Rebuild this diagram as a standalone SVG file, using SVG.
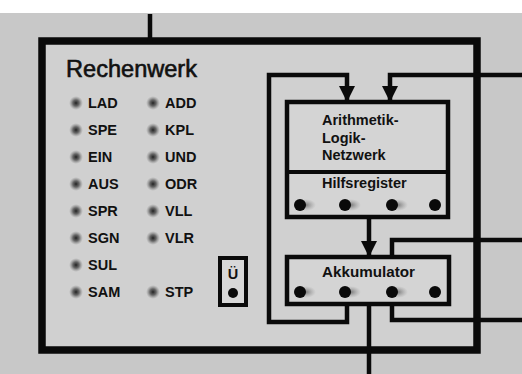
<svg xmlns="http://www.w3.org/2000/svg" width="522" height="374" viewBox="0 0 522 374">
<defs>
<style>
.bg{fill:#c8c8c8}
.outer{fill:#d0d0d0;stroke:#0a0a0a;stroke-width:7.5}
.wire{fill:none;stroke:#0a0a0a;stroke-width:4.5;stroke-linejoin:miter}
.lbl{font-family:"Liberation Sans",Arial,sans-serif;font-weight:bold;font-size:14.5px;fill:#111}
.alu{font-family:"Liberation Sans",Arial,sans-serif;font-weight:bold;font-size:14.5px;fill:#111}
.title{font-family:"Liberation Sans",Arial,sans-serif;font-size:23px;fill:#111;stroke:#111;stroke-width:0.6}
.dot{fill:#0a0a0a}
.led{fill:url(#ledg)}
.smudge{fill:url(#smg)}
</style>
<radialGradient id="ledg">
<stop offset="0" stop-color="#222"/>
<stop offset="0.45" stop-color="#555" stop-opacity="0.85"/>
<stop offset="1" stop-color="#888" stop-opacity="0"/>
</radialGradient>
<radialGradient id="smg">
<stop offset="0" stop-color="#555" stop-opacity="0.7"/>
<stop offset="1" stop-color="#888" stop-opacity="0"/>
</radialGradient>
<marker id="arr" markerUnits="userSpaceOnUse" markerWidth="17" markerHeight="16" refX="15" refY="8" orient="auto" viewBox="0 0 17 16">
<path d="M0,0 L16,8 L0,16 z" fill="#0a0a0a"/>
</marker>
</defs>
<rect x="0" y="0" width="522" height="374" fill="#ffffff"/>
<rect class="bg" x="0" y="13" width="522" height="361"/>

<g id="rechenwerk">
<rect class="outer" x="42" y="41" width="435" height="309"/>
<text class="title" x="66" y="77" textLength="131" lengthAdjust="spacingAndGlyphs">Rechenwerk</text>
</g>

<g id="befehle">
<circle class="led" cx="76" cy="103" r="7"/><text class="lbl" x="88" y="108">LAD</text>
<circle class="led" cx="76" cy="130" r="7"/><text class="lbl" x="88" y="135">SPE</text>
<circle class="led" cx="76" cy="157" r="7"/><text class="lbl" x="88" y="162">EIN</text>
<circle class="led" cx="76" cy="184" r="7"/><text class="lbl" x="88" y="189">AUS</text>
<circle class="led" cx="76" cy="211" r="7"/><text class="lbl" x="88" y="216">SPR</text>
<circle class="led" cx="76" cy="238" r="7"/><text class="lbl" x="88" y="243">SGN</text>
<circle class="led" cx="76" cy="265" r="7"/><text class="lbl" x="88" y="270">SUL</text>
<circle class="led" cx="76" cy="292" r="7"/><text class="lbl" x="88" y="297">SAM</text>
<circle class="led" cx="153" cy="103" r="7"/><text class="lbl" x="165" y="108">ADD</text>
<circle class="led" cx="153" cy="130" r="7"/><text class="lbl" x="165" y="135">KPL</text>
<circle class="led" cx="153" cy="157" r="7"/><text class="lbl" x="165" y="162">UND</text>
<circle class="led" cx="153" cy="184" r="7"/><text class="lbl" x="165" y="189">ODR</text>
<circle class="led" cx="153" cy="211" r="7"/><text class="lbl" x="165" y="216">VLL</text>
<circle class="led" cx="153" cy="238" r="7"/><text class="lbl" x="165" y="243">VLR</text>
<circle class="led" cx="153" cy="292" r="7"/><text class="lbl" x="165" y="297">STP</text>
</g>

<g id="ueberlauf">
<rect x="220" y="258" width="26" height="47" fill="#d8d8d8" stroke="#0a0a0a" stroke-width="4"/>
<text class="lbl" x="233" y="279" text-anchor="middle" font-size="15">Ü</text>
<circle class="dot" cx="233" cy="293" r="5"/>
</g>

<g id="connectors">
<path class="wire" d="M150,14 V41"/>
<path class="wire" d="M347,304 V322 H269 V75 H347 V101" marker-end="url(#arr)"/>
<path class="wire" d="M522,75 H390 V101" marker-end="url(#arr)"/>
<path class="wire" d="M369,217 V256" marker-end="url(#arr)"/>
<path class="wire" d="M522,240 H392 V257"/>
<path class="wire" d="M392,304 V320 H522"/>
<path class="wire" d="M369,304 V374"/>
</g>

<g id="alu">
<rect x="287" y="102" width="161" height="115" fill="#d4d4d4" stroke="#0a0a0a" stroke-width="4.5"/>
<line x1="287" y1="172" x2="448" y2="172" stroke="#0a0a0a" stroke-width="4"/>
<text class="alu" x="322" y="125">Arithmetik-</text>
<text class="alu" x="322" y="143">Logik-</text>
<text class="alu" x="322" y="160">Netzwerk</text>
<text class="alu" x="322" y="188">Hilfsregister</text>
<ellipse class="smudge" cx="306" cy="205" rx="10" ry="6"/>
<ellipse class="smudge" cx="351" cy="205" rx="10" ry="6"/>
<ellipse class="smudge" cx="398" cy="205" rx="10" ry="6"/>
<circle class="dot" cx="300" cy="205" r="6"/>
<circle class="dot" cx="345" cy="205" r="6"/>
<circle class="dot" cx="392" cy="205" r="6"/>
<circle class="dot" cx="435" cy="205" r="6"/>
</g>

<g id="akkumulator">
<rect x="287" y="257" width="162" height="47" fill="#d4d4d4" stroke="#0a0a0a" stroke-width="4.5"/>
<text class="alu" x="322" y="277" textLength="93" lengthAdjust="spacingAndGlyphs">Akkumulator</text>
<ellipse class="smudge" cx="306" cy="292" rx="10" ry="6"/>
<ellipse class="smudge" cx="351" cy="292" rx="10" ry="6"/>
<ellipse class="smudge" cx="398" cy="292" rx="10" ry="6"/>
<circle class="dot" cx="300" cy="292" r="6"/>
<circle class="dot" cx="345" cy="292" r="6"/>
<circle class="dot" cx="392" cy="292" r="6"/>
<circle class="dot" cx="435" cy="292" r="6"/>
</g>
</svg>
